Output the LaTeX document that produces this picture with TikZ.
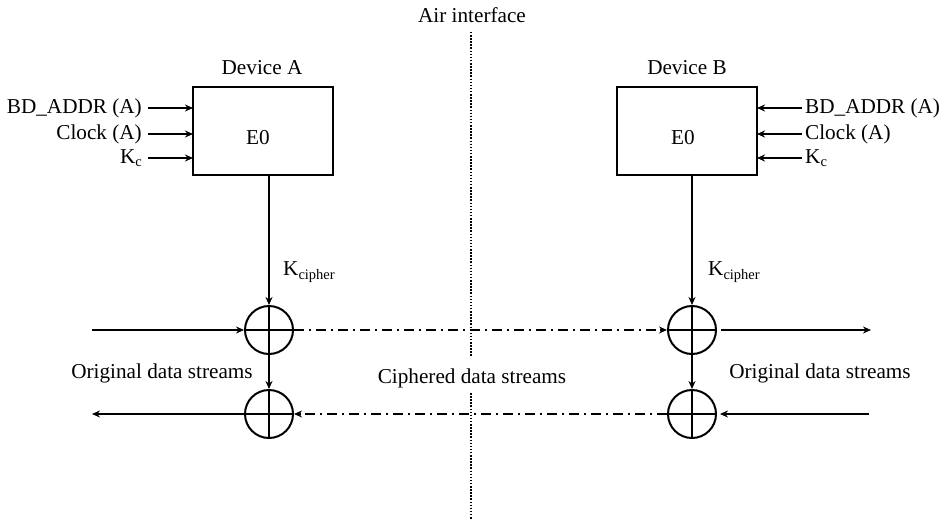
\documentclass[tikz,border=0pt]{standalone}
\usepackage{fontspec}
\setmainfont{Liberation Serif}
\usetikzlibrary{arrows.meta}
\newcommand\subtx[1]{\raisebox{-0.35ex}{\fontsize{14.5}{14.5}\selectfont #1}}
\begin{document}
\begin{tikzpicture}[x=1pt,y=-1pt,
  every node/.style={font=\fontsize{21.2}{24}\selectfont, inner sep=0pt},
  devbox/.style={draw, line width=2.1pt, minimum width=140pt, minimum height=88pt},
  xorc/.style={draw, circle, line width=2pt, minimum size=48pt},
  arr/.style={line width=1.8pt, -{Stealth[length=8pt,width=7pt]}},
  dashdot/.style={line width=2pt, dash pattern=on 10pt off 5pt on 2pt off 5pt},
  airline/.style={line width=1.8pt, dash pattern=on 1.5pt off 1.6pt}]
\useasboundingbox (0,0) rectangle (944,519);
% air interface
\node (air) at (472,15) {Air interface};
\node (ciph) at (472,378) {Ciphered data streams};
\coordinate (d1) at (471,32);
\coordinate (d2) at (471,356);
\coordinate (d3) at (471,393);
\coordinate (d4) at (471,519);
\draw[airline] (d1) -- (d2);
\draw[airline] (d3) -- (d4);
% devices
\node[devbox] (A) at (263,131) {};
\node (Ae) at (258,138) {E0};
\node (Alab) at (262,68) {Device A};
\node[devbox] (B) at (687,131) {};
\node (Be) at (683,138) {E0};
\node (Blab) at (687,68) {Device B};
% inputs A
\node[anchor=east] (a1) at (142,108) {BD\_ADDR (A)};
\node[anchor=east] (a2) at (142,134) {Clock (A)};
\node[anchor=east] (a3) at (142,158) {K\subtx{c}};
\coordinate (a1e) at (193,108);
\coordinate (a2e) at (193,134);
\coordinate (a3e) at (193,158);
\draw[arr] (a1.east) ++(6,0) coordinate (a1s) -- (a1e);
\draw[arr] (a2.east) ++(6,0) coordinate (a2s) -- (a2e);
\draw[arr] (a3.east) ++(6,0) coordinate (a3s) -- (a3e);
% inputs B
\node[anchor=west] (b1) at (805,108) {BD\_ADDR (A)};
\node[anchor=west] (b2) at (805,134) {Clock (A)};
\node[anchor=west] (b3) at (805,158) {K\subtx{c}};
\coordinate (b1e) at (757,108);
\coordinate (b2e) at (757,134);
\coordinate (b3e) at (757,158);
\draw[arr, shorten <=3pt] (b1.west) -- (b1e);
\draw[arr, shorten <=3pt] (b2.west) -- (b2e);
\draw[arr, shorten <=3pt] (b3.west) -- (b3e);
% xor circles
\node[xorc] (xa1) at (269,330) {};
\node[xorc] (xa2) at (269,414) {};
\node[xorc] (xb1) at (692,330) {};
\node[xorc] (xb2) at (692,414) {};
\foreach \c in {xa1,xa2,xb1,xb2}{
  \draw[line width=2pt] (\c.north) -- (\c.south);
  \draw[line width=2pt] (\c.west) -- (\c.east);
}
% key stream
\coordinate (Aout) at (269,176);
\coordinate (Bout) at (692,176);
\draw[arr] (Aout) -- (xa1.north);
\draw[arr] (Bout) -- (xb1.north);
\node[anchor=west] (ka) at (283,272) {K\subtx{cipher}};
\node[anchor=west] (kb) at (708,272) {K\subtx{cipher}};
\draw[arr] (xa1.south) -- (xa2.north);
\draw[arr] (xb1.south) -- (xb2.north);
% data streams
\coordinate (inA) at (92,330);
\coordinate (outA) at (92,414);
\coordinate (outB) at (871,330);
\coordinate (inB) at (869,414);
\draw[arr] (inA) -- (xa1.west);
\draw[arr] (xa2.west) -- (outA);
\draw[arr, shorten <=4pt] (xb1.east) -- (outB);
\draw[arr, shorten >=3pt] (inB) -- (xb2.east);
\draw[dashdot] (xa1.east) -- (xb1.west);
\draw[arr] ([xshift=-7pt]xb1.west) -- (xb1.west);
\draw[dashdot] (xb2.west) -- (xa2.east);
\draw[arr] ([xshift=7pt]xa2.east) -- (xa2.east);
\node (oa) at (162,373) {Original data streams};
\node (ob) at (820,373) {Original data streams};
\end{tikzpicture}
\end{document}
